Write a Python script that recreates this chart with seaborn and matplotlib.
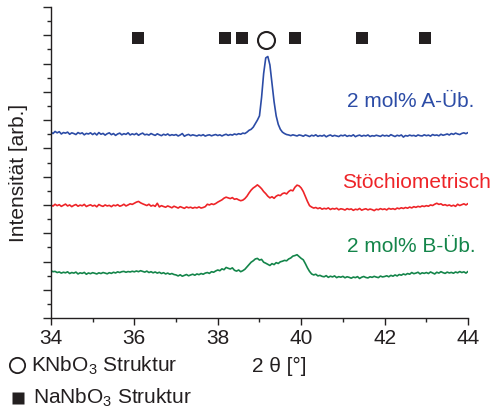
import numpy as np
import pandas as pd
import matplotlib
matplotlib.use("Agg")
import matplotlib.pyplot as plt
import seaborn as sns

# ---- data (2theta grid 34..44, step 0.05) ----
two_theta = [round(34 + 0.05 * i, 2) for i in range(201)]

a_ueb = [
    13.15, 13.05, 13.20, 13.10, 13.18, 13.02, 13.12, 13.08, 13.15, 13.00, 13.10, 13.05, 12.98, 13.12, 13.04, 13.10, 12.96, 13.06, 13.02, 13.10,
    12.98, 13.08, 12.95, 13.12, 13.00, 13.06, 12.94, 13.04, 13.10, 12.97, 13.05, 12.92, 13.02, 13.08, 12.96, 13.04, 12.99, 13.10, 12.95, 13.03,
    12.97, 13.06, 12.93, 13.02, 13.08, 12.96, 13.00, 12.94, 13.05, 12.98, 12.92, 13.03, 12.96, 12.90, 13.00, 12.94, 13.02, 12.91, 12.97, 12.93,
    12.98, 12.88, 12.95, 13.05, 12.86, 12.94, 12.99, 12.90, 12.96, 12.92, 12.88, 12.95, 12.90, 12.97, 12.87, 12.93, 12.96, 12.89, 12.94, 12.98,
    12.91, 12.96, 12.88, 12.95, 13.00, 12.92, 12.98, 12.94, 13.02, 12.97, 13.04, 13.00, 13.08, 13.05, 13.15, 13.28, 13.35, 13.50, 13.75, 14.00,
    14.30, 15.60, 17.30, 18.40, 18.50, 17.90, 16.60, 15.30, 14.30, 13.70, 13.35, 13.15, 13.05, 12.98, 12.95, 12.90, 12.96, 12.92, 12.88, 12.95,
    12.92, 12.86, 12.95, 12.90, 12.84, 12.93, 12.88, 12.96, 12.85, 12.91, 12.87, 12.94, 12.82, 12.90, 12.95, 12.86, 12.92, 12.88, 12.84, 12.93,
    12.89, 12.95, 12.85, 12.91, 12.87, 12.96, 12.83, 12.90, 12.94, 12.86, 12.92, 12.88, 12.95, 12.84, 12.90, 12.87, 12.93, 12.89, 12.85, 12.94,
    12.88, 12.92, 12.86, 12.97, 12.90, 12.84, 12.93, 12.88, 12.95, 12.80, 12.91, 12.87, 12.94, 12.89, 12.92, 12.86, 12.95, 12.90, 12.88, 12.96,
    12.90, 12.94, 12.87, 12.98, 12.92, 12.95, 12.89, 13.00, 12.93, 12.97, 13.02, 12.95, 13.05, 12.99, 13.08, 13.02, 12.98, 13.06, 13.10, 13.04, 13.12,
]

stoech = [
    8.00, 7.92, 8.05, 7.95, 8.02, 7.90, 7.98, 8.06, 7.93, 8.00, 7.88, 7.97, 8.03, 7.91, 7.99, 7.94, 8.04, 7.89, 7.96, 8.01,
    7.92, 7.98, 7.87, 8.03, 7.95, 7.90, 8.00, 7.93, 7.97, 7.88, 7.99, 7.94, 8.02, 7.91, 7.96, 8.05, 7.93, 8.00, 8.08, 8.04,
    8.12, 8.20, 8.25, 8.15, 8.08, 8.02, 7.96, 8.05, 7.92, 7.98, 7.90, 8.12, 7.86, 7.95, 7.89, 7.84, 7.93, 7.87, 7.80, 7.91,
    7.85, 7.78, 7.88, 7.82, 7.76, 7.86, 7.80, 7.84, 7.77, 7.83, 7.79, 7.86, 7.78, 7.82, 7.88, 8.05, 8.00, 8.08, 8.03, 8.10,
    8.20, 8.28, 8.36, 8.48, 8.55, 8.50, 8.45, 8.52, 8.40, 8.44, 8.36, 8.30, 8.34, 8.45, 8.62, 8.85, 9.05, 9.20, 9.30, 9.42,
    9.30, 9.15, 8.95, 8.80, 8.62, 8.50, 8.58, 8.47, 8.62, 8.70, 8.66, 8.80, 8.85, 8.78, 8.95, 9.05, 9.00, 9.25, 9.40, 9.35,
    9.20, 8.95, 8.60, 8.25, 7.95, 7.85, 7.78, 7.82, 7.74, 7.80, 7.70, 7.76, 7.72, 7.79, 7.68, 7.75, 7.71, 7.77, 7.66, 7.73,
    7.70, 7.64, 7.74, 7.68, 7.72, 7.62, 7.70, 7.66, 7.75, 7.63, 7.69, 7.73, 7.65, 7.71, 7.67, 7.60, 7.70, 7.66, 7.74, 7.68,
    7.72, 7.65, 7.76, 7.70, 7.74, 7.68, 7.78, 7.73, 7.80, 7.75, 7.82, 7.77, 7.85, 7.79, 7.88, 7.83, 7.90, 7.86, 7.93, 7.89,
    7.95, 7.91, 8.00, 7.96, 8.05, 8.12, 8.04, 8.08, 7.98, 8.02, 7.95, 8.00, 7.92, 7.98, 7.90, 8.05, 7.96, 8.02, 8.08, 8.00, 8.10,
]

b_ueb = [
    3.35, 3.28, 3.30, 3.22, 3.26, 3.18, 3.24, 3.20, 3.27, 3.15, 3.22, 3.18, 3.25, 3.12, 3.20, 3.16, 3.23, 3.10, 3.19, 3.14,
    3.21, 3.17, 3.12, 3.20, 3.15, 3.22, 3.18, 3.13, 3.21, 3.16, 3.24, 3.19, 3.27, 3.22, 3.28, 3.30, 3.24, 3.29, 3.26, 3.31,
    3.27, 3.33, 3.28, 3.35, 3.30, 3.25, 3.32, 3.22, 3.28, 3.20, 3.26, 3.18, 3.24, 3.15, 3.21, 3.12, 3.18, 3.10, 3.15, 3.08,
    3.05, 2.98, 3.06, 2.96, 3.02, 3.08, 2.99, 3.05, 3.10, 3.03, 3.12, 3.07, 3.15, 3.10, 3.18, 3.22, 3.16, 3.28, 3.24, 3.33,
    3.40, 3.35, 3.48, 3.42, 3.58, 3.52, 3.47, 3.55, 3.38, 3.32, 3.40, 3.28, 3.35, 3.45, 3.62, 3.80, 3.95, 4.05, 4.18, 4.22,
    4.10, 4.15, 3.95, 3.88, 3.80, 3.72, 3.85, 3.78, 3.92, 3.86, 3.98, 4.02, 4.08, 4.05, 4.18, 4.25, 4.38, 4.42, 4.48, 4.35,
    4.22, 4.12, 3.85, 3.55, 3.30, 3.12, 3.05, 3.10, 2.98, 3.02, 2.95, 2.92, 3.00, 2.88, 2.96, 2.91, 2.98, 2.86, 2.93, 2.89,
    2.95, 2.85, 2.92, 2.88, 2.82, 2.90, 2.86, 2.93, 2.80, 2.89, 2.94, 2.87, 2.84, 2.92, 2.88, 2.95, 2.90, 2.86, 2.97, 2.91,
    2.94, 2.99, 2.92, 3.02, 2.96, 3.05, 2.98, 3.08, 3.03, 3.12, 3.06, 3.15, 3.10, 3.22, 3.14, 3.18, 3.24, 3.12, 3.20, 3.16,
    3.22, 3.15, 3.26, 3.19, 3.12, 3.24, 3.18, 3.28, 3.21, 3.16, 3.25, 3.19, 3.23, 3.17, 3.26, 3.20, 3.29, 3.22, 3.27, 3.18, 3.30,
]

series_names = ["2 mol% A-Üb.", "Stöchiometrisch", "2 mol% B-Üb."]
series_values = [a_ueb, stoech, b_ueb]
series_label_pos = [(41.1, 15.3), (40.97, 9.57), (41.1, 5.09)]

nanbo3_pos = [36.09, 38.17, 38.58, 39.85, 41.46, 42.97]
nanbo3_y = 19.8
knbo3_pos = [39.16]
knbo3_y = 19.65

x_ticks = [34, 36, 38, 40, 42, 44]
x_label = "2 θ [°]"
y_label = "Intensität [arb.]"
legend_texts = ["KNbO$_3$ Struktur", "NaNbO$_3$ Struktur"]

colors = ["#2C4CA6", "#EE2428", "#14854A"]

# ---- style ----
sns.set_theme(style="white")
plt.rcParams["font.family"] = ["Liberation Sans", "DejaVu Sans"]
plt.rcParams["mathtext.fontset"] = "custom"
plt.rcParams["mathtext.rm"] = "Liberation Sans"
plt.rcParams["mathtext.default"] = "regular"

df = pd.concat(
    [pd.DataFrame({"2theta": two_theta, "I": v, "Probe": n})
     for n, v in zip(series_names, series_values)],
    ignore_index=True,
)

fig = plt.figure(figsize=(4.99, 4.12), dpi=100)
ax = fig.add_axes([0.102, 0.228, 0.836, 0.755])

sns.lineplot(data=df, x="2theta", y="I", hue="Probe", palette=colors,
             hue_order=series_names, sort=False, estimator=None,
             linewidth=1.2, legend=False, ax=ax)

mk = pd.DataFrame({"x": nanbo3_pos, "y": [nanbo3_y] * len(nanbo3_pos)})
sns.scatterplot(data=mk, x="x", y="y", marker="s", s=80, color="#231F20",
                edgecolor="none", ax=ax, legend=False, zorder=5)
mk2 = pd.DataFrame({"x": knbo3_pos, "y": [knbo3_y] * len(knbo3_pos)})
sns.scatterplot(data=mk2, x="x", y="y", marker="o", s=150, facecolor="white",
                edgecolor="#231F20", linewidth=1.5, ax=ax, legend=False, zorder=5)

for (n, c, (lx, ly)) in zip(series_names, colors, series_label_pos):
    ax.text(lx, ly, n, color=c, fontsize=15, ha="left", va="center",
            clip_on=False)

ax.set_xlim(34, 44)
ax.set_ylim(0, 22)
ax.set_xticks(x_ticks)
ax.set_xticks(np.arange(35, 44, 2), minor=True)
ax.set_yticks(np.arange(0, 23, 2))
ax.set_yticks(np.arange(1, 22, 2), minor=True)
ax.set_yticklabels([])
ax.tick_params(axis="x", which="major", direction="out", length=5, width=1,
               labelsize=15, pad=3, colors="#231F20", bottom=True)
ax.tick_params(axis="x", which="minor", direction="out", length=3, width=1,
               bottom=True)
ax.tick_params(axis="y", which="major", direction="out", length=6, width=1,
               left=True)
ax.tick_params(axis="y", which="minor", direction="out", length=3, width=1,
               left=True)
for side in ["top", "right"]:
    ax.spines[side].set_visible(False)
for side in ["left", "bottom"]:
    ax.spines[side].set_color("#231F20")
    ax.spines[side].set_linewidth(1.0)

ax.set_xlabel("")
ax.set_ylabel(y_label, fontsize=15, color="#231F20")
ax.yaxis.set_label_coords(-0.055, 0.466)

fig.text(279 / 499, 1 - 366 / 412, x_label, fontsize=15, ha="center",
         va="center", color="#231F20")

# structure legend
fig.text(31 / 499, 1 - 366 / 412, legend_texts[0], fontsize=15, ha="left",
         va="center", color="#231F20")
fig.text(33 / 499, 1 - 398 / 412, legend_texts[1], fontsize=15, ha="left",
         va="center", color="#231F20")
fig.lines.append(plt.Line2D([16.7 / 499], [1 - 365 / 412], marker="o",
                            markersize=11, markerfacecolor="white",
                            markeredgecolor="#231F20", markeredgewidth=1.3,
                            transform=fig.transFigure, figure=fig))
fig.lines.append(plt.Line2D([17.5 / 499], [1 - 398 / 412], marker="s",
                            markersize=8, markerfacecolor="#231F20",
                            markeredgecolor="none",
                            transform=fig.transFigure, figure=fig))

fig.savefig("out.png", dpi=100)
